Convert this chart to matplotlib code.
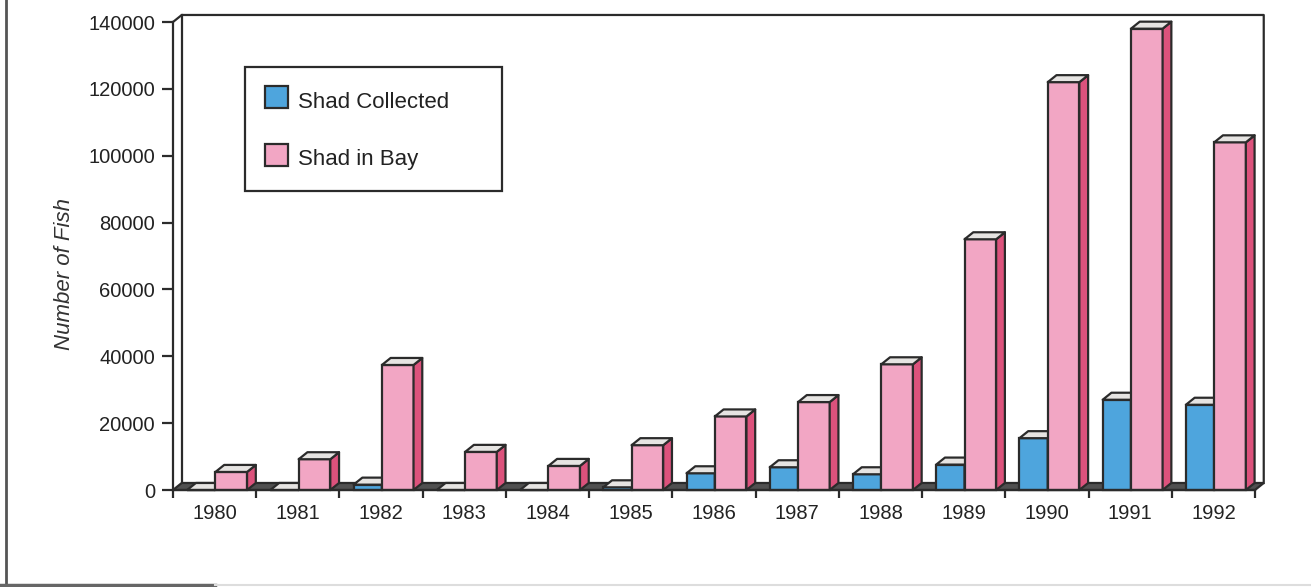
import matplotlib
matplotlib.use("Agg")
import matplotlib.pyplot as plt
from matplotlib.patches import Polygon, Rectangle
from matplotlib.lines import Line2D

plt.rcParams['font.family'] = ['Liberation Sans', 'DejaVu Sans']

# ---- data ----
years = ["1980", "1981", "1982", "1983", "1984", "1985", "1986",
         "1987", "1988", "1989", "1990", "1991", "1992"]
shad_collected = [0, 0, 1600, 0, 0, 800, 5000, 6800, 4700, 7600, 15500, 27000, 25500]
shad_in_bay = [5400, 9200, 37400, 11400, 7200, 13400, 22000, 26300, 37600,
               75000, 122000, 138000, 104000]
y_ticks = [0, 20000, 40000, 60000, 80000, 100000, 120000, 140000]
series_names = ["Shad Collected", "Shad in Bay"]

# ---- styling ----
W, H = 1311, 587
edge = "#2b2b2b"
blue = "#4ea5dd"
pink = "#f2a6c4"
pink_side = "#dc527c"
blue_side = "#2f7fb8"
top_face = "#e6e4e2"
floor_c = "#505050"
lw = 1.6

DX = 0.105      # depth offset along x (category units)
DY = 2100       # depth offset along y (data units)

fig = plt.figure(figsize=(W / 100, H / 100), dpi=100)
fig.patch.set_facecolor("white")


def fx(px):
    return px / W


def fy(py):
    return 1 - py / H


ax = fig.add_axes([fx(173), fy(490), (1255 - 173) / W, (490 - 22) / H])
ax.set_xlim(-0.5, len(years) - 0.5)
ax.set_ylim(0, 140000)
ax.patch.set_alpha(0)

# back wall outline
xl, xr = -0.5, len(years) - 0.5
ytop = 140000
ax.add_line(Line2D([xl, xl + DX, xr + DX, xr + DX],
                   [ytop, ytop + DY, ytop + DY, DY],
                   color=edge, lw=lw, clip_on=False, zorder=1))
ax.add_line(Line2D([xl + DX, xl + DX], [ytop + DY, DY],
                   color=edge, lw=lw, clip_on=False, zorder=1))

# floor
ax.add_patch(Polygon([(xl, 0), (xr, 0), (xr + DX, DY), (xl + DX, DY)],
                     closed=True, facecolor=floor_c, edgecolor=edge,
                     lw=lw, clip_on=False, zorder=2))

xs = list(range(len(years)))
bw_blue, off_blue = 0.34, 0.17
bw_pink, off_pink = 0.38, 0.51


def draw_box(left, width, value, front, side, z):
    ax.bar(left, value, width, align="edge", color=front, edgecolor=edge,
           linewidth=lw, zorder=z, clip_on=False)
    ax.add_patch(Polygon([(left + width, 0), (left + width + DX, DY),
                          (left + width + DX, value + DY), (left + width, value)],
                         closed=True, facecolor=side, edgecolor=edge, lw=lw,
                         zorder=z, clip_on=False, joinstyle="round"))
    ax.add_patch(Polygon([(left, value), (left + width, value),
                          (left + width + DX, value + DY), (left + DX, value + DY)],
                         closed=True, facecolor=top_face, edgecolor=edge, lw=lw,
                         zorder=z, clip_on=False, joinstyle="round"))


for i, x in enumerate(xs):
    left = x - 0.5
    draw_box(left + off_blue, bw_blue, shad_collected[i], blue, blue_side, 3 + 2 * i)
    draw_box(left + off_pink, bw_pink, shad_in_bay[i], pink, pink_side, 4 + 2 * i)

# axes, ticks, labels
for s in ["top", "right"]:
    ax.spines[s].set_visible(False)
for s in ["left", "bottom"]:
    ax.spines[s].set_color(edge)
    ax.spines[s].set_linewidth(lw)
    ax.spines[s].set_zorder(40)

ax.set_yticks(y_ticks)
ax.set_yticklabels([str(v) for v in y_ticks], fontsize=14.5, color="#222222")
ax.tick_params(axis="y", length=8, width=lw, color=edge, pad=5)

ax.set_xticks(xs)
ax.set_xticklabels(years, fontsize=14.5, color="#222222")
ax.tick_params(axis="x", which="major", length=0, pad=10)
ax.set_xticks([x - 0.5 for x in xs] + [xr], minor=True)
ax.tick_params(axis="x", which="minor", length=6, width=lw, color=edge,
               direction="out")

# y-axis title
fig.text(fx(64), fy(274), "Number of Fish", fontsize=16, style="italic",
         color="#333333", rotation=90, ha="center", va="center")

# legend box
fig.add_artist(Rectangle((fx(245), fy(191)), fx(502) - fx(245), fy(67) - fy(191),
                         transform=fig.transFigure, facecolor="white",
                         edgecolor=edge, lw=lw))
colors = [blue, pink]
rows = [97, 155]
for name, col, py in zip(series_names, colors, rows):
    fig.add_artist(Rectangle((fx(265), fy(py + 11)), fx(288) - fx(265), fy(py - 11) - fy(py + 11),
                             transform=fig.transFigure, facecolor=col,
                             edgecolor=edge, lw=lw))
    fig.text(fx(298), fy(py + 5), name, fontsize=16, color="#222222",
             va="center", ha="left")

# page frame
fig.add_artist(Line2D([fx(6), fx(6)], [fy(0), fy(585)], transform=fig.transFigure,
                      color="#555555", lw=2))
fig.add_artist(Line2D([fx(0), fx(215)], [fy(585), fy(585)], transform=fig.transFigure,
                      color="#666666", lw=2.5))
fig.add_artist(Line2D([fx(215), fx(1311)], [fy(585), fy(585)], transform=fig.transFigure,
                      color="#dddddd", lw=1.5))

fig.savefig("out.png", dpi=100)
